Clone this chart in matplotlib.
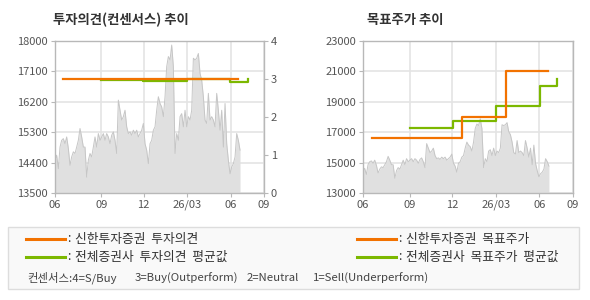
import matplotlib
matplotlib.use("Agg")
import matplotlib.pyplot as plt
import numpy as np
from matplotlib.patches import Rectangle
from matplotlib.lines import Line2D

plt.rcParams['font.family'] = ['Noto Sans CJK KR', 'DejaVu Sans']

# x axis in months from the left edge of the chart
tick_pos = [0, 3.33, 6.37, 9.5, 12.6, 15]
tick_labels = ['06', '09', '12', '26/03', '06', '09']
price_end = 13.28

prices = [14470, 14620, 14220, 14860, 15060, 15110, 14960, 15160, 14820, 14320,
          14570, 14720, 14670, 14860, 15060, 15410, 15160, 14860, 14860, 13970,
          14470, 14670, 14570, 14860, 15160, 14860, 15260, 15060, 15160, 15260,
          15060, 15260, 15160, 14960, 15210, 15310, 15060, 14670, 16250, 15950,
          15660, 15760, 15950, 15460, 15260, 15310, 15210, 15360, 15260, 15360,
          15160, 15260, 15360, 15560, 14960, 14770, 14370, 14960, 15060, 15360,
          15460, 15950, 16350, 16150, 16050, 15760, 16350, 17240, 17540, 17440,
          17880, 17240, 14670, 15260, 15060, 15760, 15850, 15460, 15950, 15460,
          15760, 15660, 15950, 17490, 17440, 17490, 17630, 17040, 16840, 16350,
          15660, 15560, 16450, 15660, 15760, 15660, 15460, 16450, 15950, 15360,
          15950, 14860, 16150, 14960, 14470, 14070, 14270, 14370, 14570, 15260,
          15060, 14770]

# rating (consensus) steps
shinhan_rating_x = [0.57, 13.13]
shinhan_rating = [3.0, 3.0]
avg_rating_x = [3.30, 6.32, 9.47, 12.56, 13.85]
avg_rating = [2.98, 2.94, 3.0, 2.93, 3.0]

# target price steps
shinhan_target_x = [0.64, 7.07, 10.21, 13.21]
shinhan_target = [16600, 18000, 21000, 21000]
avg_target_x = [3.36, 6.43, 9.5, 12.64, 13.86]
avg_target = [17300, 17750, 18700, 20050, 20500]

consensus_parts = ['컨센서스:4=S/Buy', '3=Buy(Outperform)', '2=Neutral', '1=Sell(Underperform)']

ORANGE = '#f27200'
GREEN = '#7cb800'
GRID = '#e4e4e4'
SPINE = '#b8b8b8'
TXT = '#555555'

W, H = 590, 300
fig = plt.figure(figsize=(5.9, 3.0), dpi=100)
fig.patch.set_facecolor('white')

def px_axes(x0, y0, x1, y1):
    return fig.add_axes([x0 / W, 1 - y1 / H, (x1 - x0) / W, (y1 - y0) / H])

def style(ax, ylim, yticks):
    xs = np.linspace(0, price_end, len(prices))
    ax.fill_between(xs, ylim[0], prices, color='#e0e0e0', lw=0, zorder=1)
    ax.plot(xs, prices, color='#c6c6c6', lw=0.7, zorder=1.5)
    ax.set_xlim(0, 15)
    ax.set_ylim(*ylim)
    ax.set_yticks(yticks)
    ax.set_xticks(tick_pos)
    ax.set_xticklabels(tick_labels)
    ax.grid(True, color=GRID, lw=1.2, zorder=0)
    ax.set_axisbelow(True)
    for s in ax.spines.values():
        s.set_color(SPINE)
        s.set_linewidth(1.0)
    ax.tick_params(colors=SPINE, labelcolor=TXT, labelsize=8, length=3, width=0.8, pad=2)

# left chart: rating
ax1 = px_axes(55, 41, 264, 193)
style(ax1, (13500, 18000), [13500, 14400, 15300, 16200, 17100, 18000])
ax1b = ax1.twinx()
ax1b.set_ylim(0, 4)
ax1b.set_yticks([0, 1, 2, 3, 4])
ax1b.tick_params(colors=SPINE, labelcolor=TXT, labelsize=8, length=3, width=0.8, pad=2)
for s in ax1b.spines.values():
    s.set_visible(False)
ax1b.step(avg_rating_x, avg_rating, where='post', color=GREEN, lw=1.6, zorder=3)
ax1b.plot(shinhan_rating_x, shinhan_rating, color=ORANGE, lw=1.6, zorder=4)
fig.text(53 / W, 1 - 20 / H, '투자의견(컨센서스) 추이', fontsize=9.6, fontweight='bold',
         color='#333333', va='center', ha='left')

# right chart: target price
ax2 = px_axes(363, 41, 573, 193)
style(ax2, (13000, 23000), [13000, 15000, 17000, 19000, 21000, 23000])
ax2.step(avg_target_x, avg_target, where='post', color=GREEN, lw=1.6, zorder=3)
ax2.step(shinhan_target_x, shinhan_target, where='post', color=ORANGE, lw=1.6, zorder=4)
fig.text(367 / W, 1 - 20 / H, '목표주가 추이', fontsize=9.6, fontweight='bold',
         color='#333333', va='center', ha='left')

# legend panel
fig.patches.append(Rectangle((8 / W, 1 - 289 / H), (579 - 8) / W, (289 - 227) / H,
                             transform=fig.transFigure, facecolor='#f9f9f9',
                             edgecolor='#dddddd', lw=1.0, zorder=0))
legend_rows = [
    (26, 239, ORANGE, '신한투자증권  투자의견'),
    (26, 257, GREEN, '전체증권사  투자의견  평균값'),
    (357, 239, ORANGE, '신한투자증권  목표주가'),
    (357, 257, GREEN, '전체증권사  목표주가  평균값'),
]
for x0, y0, c, label in legend_rows:
    fig.lines.append(Line2D([x0 / W, (x0 + 39) / W], [1 - y0 / H, 1 - y0 / H],
                            transform=fig.transFigure, color=c, lw=2.2))
    fig.text((x0 + 41) / W, 1 - y0 / H, ':', fontsize=9, color='#333333',
             va='center', ha='left')
    fig.text((x0 + 49) / W, 1 - y0 / H, label, fontsize=9.2, color='#333333',
             va='center', ha='left')
for xp, part in zip([27, 135, 247, 313], consensus_parts):
    fig.text(xp / W, 1 - 278 / H, part, fontsize=8.2, color='#444444',
             va='center', ha='left')

fig.savefig('out.png', dpi=100)
